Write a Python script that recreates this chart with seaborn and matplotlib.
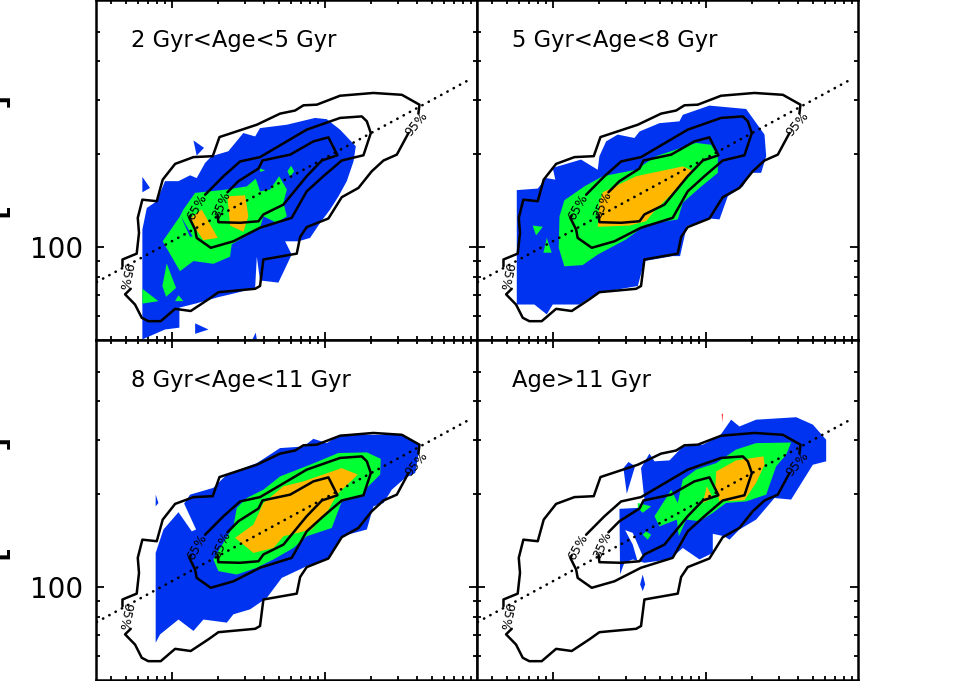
import numpy as np
import matplotlib
matplotlib.use('Agg')
import matplotlib.pyplot as plt
from matplotlib.ticker import FixedLocator, NullFormatter, FixedFormatter
import seaborn as sns

# contours, same in every panel, broken where the labels sit
c95a_x = [1547, 1471, 1384, 1307, 1220, 1111, 1024, 882, 839, 817, 599, 577, 545, 305, 240, 124, 22, -72, -153, -196, -240, -305, -268]
c95a_y = [370, 300, 281, 246, 192, 162, 93, 65, 33, -21, -40, -126, -135, -146, -169, -207, -200, -240, -240, -229, -186, -153, -135]
c95b_x = [-322, -322, -229, -214, -222, -192, -98, -59, 22, 142, 268, 312, 556, 708, 806, 861, 948, 1100, 1318, 1504, 1619, 1612]
c95b_y = [-62, -40, -21, 46, 95, 154, 149, 219, 270, 292, 295, 357, 397, 433, 443, 460, 462, 491, 500, 494, 462, 433]
c65_x = [218, 338, 447, 577, 752, 882, 1100, 1242, 1275, 1301, 1253, 1111, 991, 882, 784, 577, 403, 255, 163, 153, 115, 124]
c65_y = [170, 230, 278, 292, 343, 381, 419, 424, 408, 370, 298, 281, 230, 181, 95, 63, 19, -2, 30, 57, 95, 103]
c35_x = [364, 436, 567, 593, 774, 926, 1024, 1083, 981, 882, 730, 599, 567, 447, 305, 299]
c35_y = [178, 214, 255, 281, 300, 343, 356, 298, 281, 230, 138, 106, 84, 79, 81, 106]

label_text = ['95%', '65%', '35%', '95%']
label_x = [1602, 168, 327, -305]
label_y = [400, 131, 138, -96]
label_rot = [50, 60, 66, 258]

fit_x = [-490, 1956]
fit_y = [-113, 546]

titles = ['2 Gyr<Age<5 Gyr', '5 Gyr<Age<8 Gyr', '8 Gyr<Age<11 Gyr', 'Age>11 Gyr']

# panel 1
p1_blue_x = [-192, -192, -163, -98, -44, 44, 120, 163, 218, 261, 370, 468, 545, 577, 752, 937, 1013, 1100, 1203, 1188, 1144, 1090, 1035, 970, 904, 828, 741, 784, 697, 577, 556, 545, 425, 305, 163, 50, 50, -44]
p1_blue_y = [-299, 57, 127, 149, 214, 214, 233, 224, 273, 295, 311, 370, 359, 386, 397, 419, 415, 381, 327, 278, 214, 165, 122, 79, 30, 19, 19, -24, -115, -108, -31, -132, -148, -162, -182, -196, -261, -267]
p1_b2_x = [142, 211, 163]
p1_b2_y = [346, 322, 297]
p1_b3_x = [-192, -142, -192]
p1_b3_y = [228, 192, 178]
p1_b4_x = [153, 240, 153]
p1_b4_y = [-247, -267, -281]
p1_b5_x = [549, 527, 556]
p1_b5_y = [-277, -299, -299]
p1_green_x = [-59, 54, 76, 153, 360, 490, 549, 577, 643, 702, 752, 730, 752, 686, 599, 577, 392, 381, 272, 142, 54]
p1_green_y = [19, 100, 122, 176, 187, 197, 222, 181, 187, 230, 187, 144, 100, 79, 100, 63, 9, -31, -54, -45, -78]
p1_sliver_x = [59, 137, 120]
p1_sliver_y = [100, 35, 33]
p1_g2_x = [-33, 28, -37, -61]
p1_g2_y = [-53, -132, -161, -126]
p1_g3_x = [-192, -87, -192]
p1_g3_y = [-135, -175, -183]
p1_g4_x = [44, 76, 22]
p1_g4_y = [-156, -175, -175]
p1_g5_x = [780, 800, 774, 756]
p1_g5_y = [264, 246, 228, 246]
p1_g6_x = [577, 610, 577]
p1_g6_y = [255, 249, 244]
p1_orange_x = [196, 301, 207, 159, 126]
p1_orange_y = [122, 30, 23, 57, 95]
p1_o2_x = [364, 479, 501, 468, 381]
p1_o2_y = [165, 168, 100, 50, 70]

# panel 2
p2_blue_x = [-235, -235, -98, -44, 17, 0, 185, 294, 305, 349, 425, 534, 567, 697, 828, 850, 1024, 1264, 1384, 1395, 1362, 1297, 1242, 1144, 1090, 1024, 876, 832, 784, 599, 556, 294, 174, 0, -39, -120]
p2_blue_y = [-186, 185, 190, 224, 219, 257, 284, 251, 295, 343, 365, 354, 375, 402, 408, 429, 459, 448, 365, 295, 241, 241, 197, 165, 90, 93, 68, -29, -29, -45, -126, -148, -186, -186, -218, -186]
p2_green_x = [76, 207, 327, 545, 675, 937, 1035, 1079, 1079, 959, 850, 817, 610, 479, 294, 196, 76, 39, 44]
p2_green_y = [152, 197, 230, 251, 295, 338, 332, 295, 241, 192, 144, 90, 73, 25, -24, -58, -62, -2, 100]
p2_g2_x = [-131, -65, -109]
p2_g2_y = [70, 66, 38]
p2_g3_x = [-39, -7, -61]
p2_g3_y = [30, -18, -18]
p2_orange_x = [327, 545, 850, 920, 806, 654, 610, 501, 294, 305]
p2_orange_y = [178, 230, 262, 246, 187, 111, 84, 70, 66, 144]

# panel 3
p3_blue_x = [-105, -105, -54, 44, 131, 159, 81, 120, 272, 360, 556, 708, 861, 926, 1013, 1100, 1514, 1623, 1591, 1525, 1438, 1384, 1318, 1275, 1111, 1024, 882, 719, 621, 512, 403, 360, 207, 142, 44, -76]
p3_blue_y = [-180, 111, 187, 243, 181, 187, 271, 300, 322, 365, 402, 451, 456, 481, 467, 494, 494, 462, 370, 354, 316, 273, 262, 187, 165, 95, 68, 30, -35, -72, -88, -115, -105, -142, -105, -153]
p3_b2_x = [-105, -87, -105]
p3_b2_y = [300, 273, 262]
p3_green_x = [272, 403, 425, 490, 599, 708, 904, 1090, 1275, 1366, 1362, 1275, 1253, 1111, 1046, 882, 795, 665, 556, 425, 305]
p3_green_y = [90, 197, 257, 289, 316, 359, 397, 435, 437, 416, 365, 322, 295, 278, 192, 165, 127, 90, 63, 41, 52]
p3_orange_x = [414, 534, 599, 730, 861, 1111, 1216, 1079, 1024, 915, 730, 665, 534]
p3_orange_y = [160, 203, 273, 327, 343, 386, 365, 300, 251, 187, 165, 127, 111]

# panel 4
p4_blue_x = [440, 436, 556, 599, 577, 632, 665, 763, 850, 981, 1090, 1166, 1220, 1329, 1591, 1700, 1787, 1787, 1700, 1558, 1449, 1329, 1220, 1155, 1122, 1046, 1046, 959, 850, 763, 599, 523, 468]
p4_blue_y = [41, 254, 257, 284, 386, 433, 408, 411, 456, 462, 489, 543, 521, 543, 551, 527, 478, 408, 397, 284, 289, 219, 187, 154, 165, 173, 111, 90, 127, 90, 79, 90, 79]
p4_hole_x = [473, 523, 593, 556, 523]
p4_hole_y = [185, 176, 95, 81, 138]
p4_b2_x = [462, 495, 538, 484]
p4_b2_y = [386, 406, 392, 303]
p4_b3_x = [588, 604, 588, 571]
p4_b3_y = [41, 9, -13, 9]
p4_green_x = [665, 741, 774, 817, 850, 937, 1068, 1198, 1329, 1558, 1525, 1460, 1395, 1264, 1133, 1046, 959, 872, 824, 811, 697]
p4_green_y = [230, 289, 316, 273, 349, 381, 402, 446, 467, 469, 429, 392, 300, 278, 273, 241, 214, 219, 165, 219, 197]
p4_g2_x = [556, 643, 588, 556]
p4_g2_y = [273, 262, 241, 257]
p4_g3_x = [610, 643, 621, 588]
p4_g3_y = [181, 170, 154, 170]
p4_orange_x = [1068, 1198, 1377, 1384, 1329, 1253, 1090, 1063]
p4_orange_y = [375, 411, 424, 397, 338, 282, 278, 327]
p4_o2_x = [1007, 1046, 981]
p4_o2_y = [327, 289, 273]
p4_red_x = [1105, 1112, 1107]
p4_red_y = [562, 562, 534]

BLUE = '#0033f0'
GREEN = '#00ff33'
ORANGE = '#ffb700'

panel_shapes = [
    [(BLUE, p1_blue_x, p1_blue_y), (BLUE, p1_b2_x, p1_b2_y), (BLUE, p1_b3_x, p1_b3_y), (BLUE, p1_b4_x, p1_b4_y),
     (BLUE, p1_b5_x, p1_b5_y), (GREEN, p1_green_x, p1_green_y), (BLUE, p1_sliver_x, p1_sliver_y),
     (GREEN, p1_g2_x, p1_g2_y), (GREEN, p1_g3_x, p1_g3_y), (GREEN, p1_g4_x, p1_g4_y), (GREEN, p1_g5_x, p1_g5_y),
     (GREEN, p1_g6_x, p1_g6_y), (ORANGE, p1_orange_x, p1_orange_y), (ORANGE, p1_o2_x, p1_o2_y)],
    [(BLUE, p2_blue_x, p2_blue_y), (GREEN, p2_green_x, p2_green_y), (GREEN, p2_g2_x, p2_g2_y),
     (GREEN, p2_g3_x, p2_g3_y), (ORANGE, p2_orange_x, p2_orange_y)],
    [(BLUE, p3_blue_x, p3_blue_y), (BLUE, p3_b2_x, p3_b2_y), (GREEN, p3_green_x, p3_green_y),
     (ORANGE, p3_orange_x, p3_orange_y)],
    [(BLUE, p4_blue_x, p4_blue_y), ('white', p4_hole_x, p4_hole_y), (BLUE, p4_b2_x, p4_b2_y), (BLUE, p4_b3_x, p4_b3_y),
     (GREEN, p4_green_x, p4_green_y), (GREEN, p4_g2_x, p4_g2_y), (GREEN, p4_g3_x, p4_g3_y),
     (ORANGE, p4_orange_x, p4_orange_y), (ORANGE, p4_o2_x, p4_o2_y), ('red', p4_red_x, p4_red_y)],
]


def to_x(v):
    return 10 ** (np.array(v) / 1000)


def to_y(v):
    return 100 * 10 ** (np.array(v) / 1000)


sns.set_style('ticks')
plt.rcParams['font.family'] = ['DejaVu Sans']
plt.rcParams['text.color'] = 'black'
plt.rcParams['xtick.color'] = 'black'
plt.rcParams['ytick.color'] = 'black'

W, H = 954, 681
fig = plt.figure(figsize=(W / 100, H / 100), dpi=100)
boxes = [(96, 0, 381, 340), (477, 0, 381, 340), (96, 340, 381, 340), (477, 340, 381, 340)]

for i, (l, t, w, h) in enumerate(boxes):
    ax = fig.add_axes([l / W, 1 - (t + h) / H, w / W, h / H])
    ax.set_xscale('log')
    ax.set_yscale('log')

    for color, xs, ys in panel_shapes[i]:
        ax.fill(to_x(xs), to_y(ys), color=color, linewidth=0)

    for xs, ys in [(c95a_x, c95a_y), (c95b_x, c95b_y), (c65_x, c65_y), (c35_x, c35_y)]:
        sns.lineplot(x=to_x(xs), y=to_y(ys), sort=False, estimator=None, color='black', linewidth=1.8, ax=ax)
    sns.lineplot(x=to_x(fit_x), y=to_y(fit_y), sort=False, estimator=None, color='black', linewidth=1.9,
                 linestyle=(0, (0.1, 2.6)), dash_capstyle='round', ax=ax)

    for s, lx, ly, r in zip(label_text, label_x, label_y, label_rot):
        ax.text(to_x(lx), to_y(ly), s, fontsize=9, rotation=r, ha='center', va='center', rotation_mode='anchor')

    ax.text(0.092, 0.862, titles[i], transform=ax.transAxes, fontsize=16.3, va='baseline')

    ax.set_xlim(10 ** -0.495, 10 ** 1.995)
    ax.set_ylim(50, 633)
    ax.xaxis.set_major_locator(FixedLocator([1, 10]))
    ax.xaxis.set_minor_locator(FixedLocator([0.4, 0.5, 0.6, 0.7, 0.8, 0.9, 2, 3, 4, 5, 6, 7, 8, 9,
                                             20, 30, 40, 50, 60, 70, 80, 90]))
    ax.yaxis.set_major_locator(FixedLocator([100]))
    ax.yaxis.set_minor_locator(FixedLocator([60, 70, 80, 90, 200, 300, 400, 500]))
    ax.xaxis.set_major_formatter(NullFormatter())
    ax.xaxis.set_minor_formatter(NullFormatter())
    ax.yaxis.set_minor_formatter(NullFormatter())
    if i % 2 == 0:
        ax.yaxis.set_major_formatter(FixedFormatter(['100']))
    else:
        ax.yaxis.set_major_formatter(NullFormatter())
    ax.tick_params(which='major', direction='in', top=True, right=True, length=5.8, width=1.3, labelsize=20, pad=9)
    ax.tick_params(which='minor', direction='in', top=True, right=True, length=3, width=1.3)
    for sp in ax.spines.values():
        sp.set_linewidth(1.8)
        sp.set_color('black')

# y label sits mostly off the canvas, only the feet of the letters show
for t_px in [178, 520]:
    fig.text(11 / W, 1 - t_px / H, '\u03c3 [km/s]', rotation=90, ha='right', va='center',
             fontsize=34, family='Liberation Sans')

fig.savefig('out.png', dpi=100)
